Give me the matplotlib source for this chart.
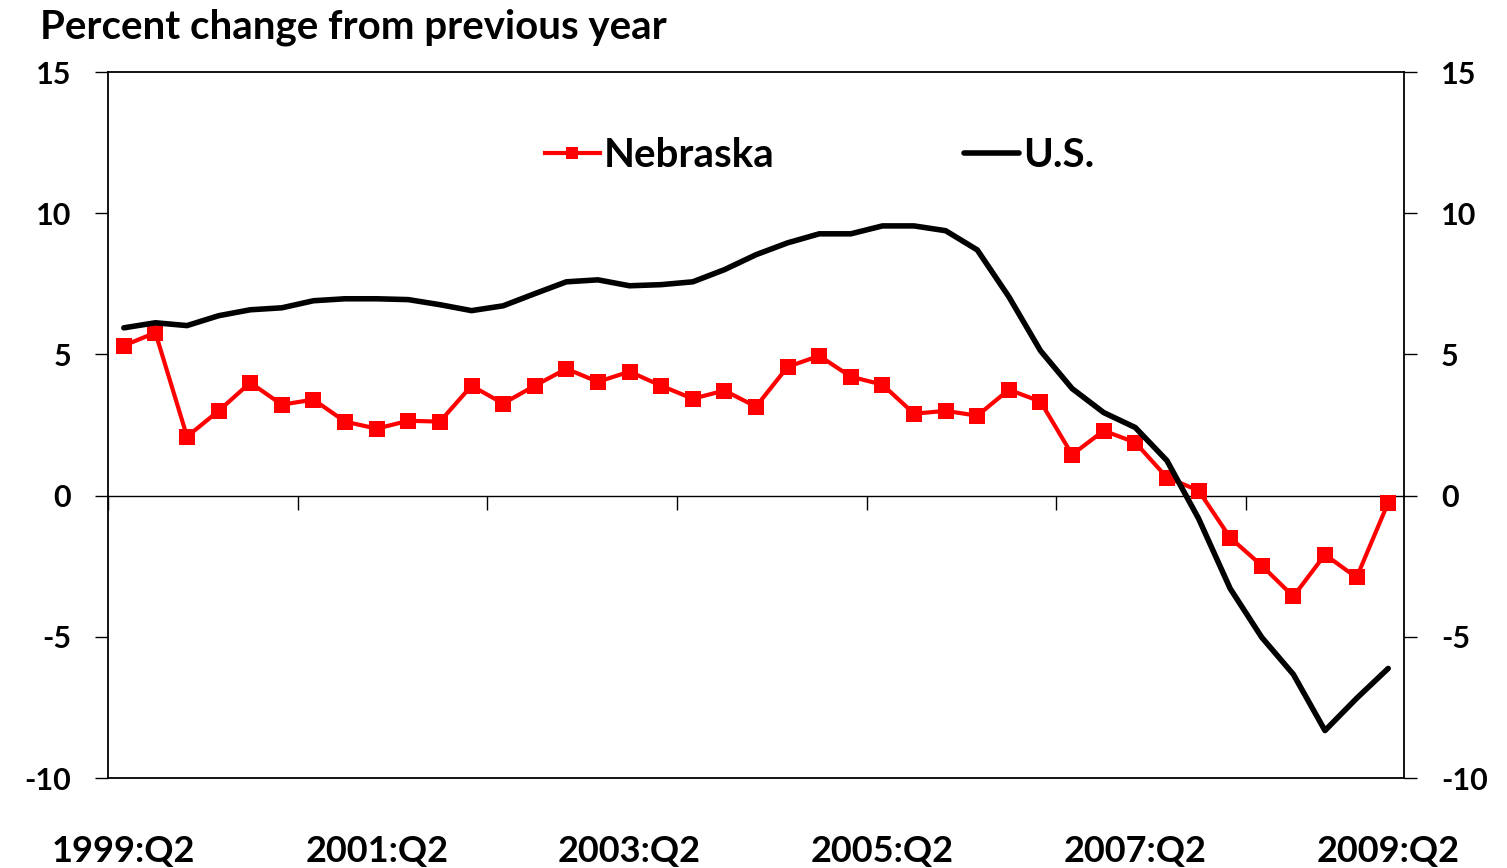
import matplotlib
matplotlib.use("Agg")
import matplotlib.pyplot as plt
import numpy as np

plt.rcParams['font.family'] = ['Lato', 'DejaVu Sans']
plt.rcParams['font.weight'] = 'bold'
plt.rcParams['axes.unicode_minus'] = False

quarters = [f"{1999 + (i + 1) // 4}:Q{(i + 1) % 4 + 1}" for i in range(41)]
label_quarters = ["1999:Q2", "2001:Q2", "2003:Q2", "2005:Q2", "2007:Q2", "2009:Q2"]

nebraska = [5.31, 5.77, 2.09, 3.00, 4.00, 3.22, 3.40, 2.62, 2.37, 2.65,
            2.62, 3.89, 3.26, 3.89, 4.49, 4.03, 4.39, 3.89, 3.43, 3.72,
            3.15, 4.56, 4.95, 4.21, 3.93, 2.90, 3.00, 2.83, 3.75, 3.33,
            1.45, 2.30, 1.88, 0.64, 0.18, -1.49, -2.48, -3.57, -2.09, -2.90,
            -0.25]
us = [5.94, 6.12, 6.02, 6.37, 6.58, 6.65, 6.90, 6.97, 6.97, 6.94,
      6.76, 6.55, 6.72, 7.15, 7.57, 7.64, 7.43, 7.47, 7.57, 8.00,
      8.53, 8.95, 9.27, 9.27, 9.55, 9.55, 9.38, 8.70, 7.04, 5.13,
      3.79, 2.94, 2.41, 1.24, -0.81, -3.29, -5.02, -6.33, -8.32, -7.18,
      -6.12]
y_ticks = [-10, -5, 0, 5, 10, 15]

fig = plt.figure(figsize=(15.07, 8.68), dpi=100)
ax = fig.add_axes([108/1507, 90/868, 1296/1507, 706/868])

x = np.arange(len(quarters))
ax.plot(x, nebraska, color='#ff0000', lw=3.0, marker='s', markersize=11,
        markeredgewidth=0, label='Nebraska', zorder=3)
ax.plot(x, us, color='black', lw=4.0, solid_capstyle='round', label='U.S.', zorder=4)

ax.set_xlim(-0.5, len(quarters) - 0.5)
ax.set_ylim(-10, 15)

for s in ax.spines.values():
    s.set_linewidth(1.3)

# y axis ticks both sides
ax.set_yticks(y_ticks)
ax.tick_params(axis='y', which='major', direction='out', length=9.5, width=1,
               labelsize=22, pad=17, left=True, right=True,
               labelleft=True, labelright=True)

# x labels at bottom (no tick marks)
label_idx = [quarters.index(q) for q in label_quarters]
ax.set_xticks(label_idx)
ax.set_xticklabels(label_quarters)
ax.tick_params(axis='x', which='major', length=0, labelsize=26, pad=41)

# zero line with category tick marks
sec = ax.secondary_xaxis(10/25)
sec.set_xticks(np.arange(-0.5, len(quarters), 6))
sec.set_xticklabels([])
sec.tick_params(axis='x', direction='out', length=10, width=1)
sec.spines['bottom'].set_linewidth(1)

fig.text(40/1507, 1 - 27/868, "Percent change from previous year",
         fontsize=29, fontweight='bold', ha='left', va='center')

leg = ax.legend(loc='center', bbox_to_anchor=(0.549, 0.882), ncol=2, frameon=False,
                fontsize=29, handlelength=1.37, handletextpad=0.1,
                columnspacing=4.7, markerscale=0.75)

fig.savefig("out.png", dpi=100)
